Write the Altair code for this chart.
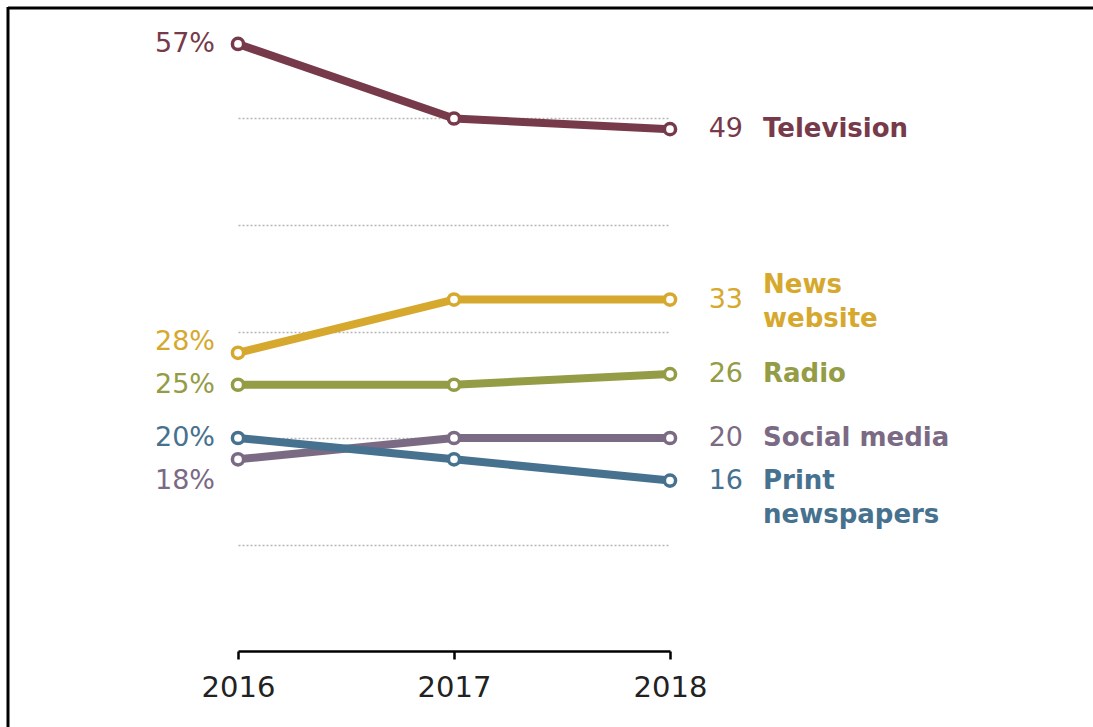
import altair as alt
import pandas as pd

# Share of U.S. adults who often get news on each platform
years = [2016, 2017, 2018]
series = ["Television", "News website", "Radio", "Social media", "Print newspapers"]
display_names = ["Television", "News\nwebsite", "Radio", "Social media", "Print\nnewspapers"]
television = [57, 50, 49]
news_website = [28, 33, 33]
radio = [25, 25, 26]
social_media = [18, 20, 20]
print_newspapers = [20, 18, 16]
colors = ["#773a4a", "#d6a92e", "#949c45", "#7b6a84", "#46718f"]
gridline_values = [10, 20, 30, 40, 50]

values_by_series = [television, news_website, radio, social_media, print_newspapers]
rows = []
for order, (name, label, vals) in enumerate(zip(series, display_names, values_by_series)):
    for year, v in zip(years, vals):
        rows.append({"series": name, "label": label, "year": year, "value": v, "order": order})
df = pd.DataFrame(rows)

FONT = "DejaVu Sans"

x_enc = alt.X(
    "year:O",
    scale=alt.Scale(type="point", padding=0),
    axis=alt.Axis(
        title=None, labelAngle=0, labelFont=FONT, labelFontSize=29, labelColor="#222222",
        labelPadding=14, domainColor="#000000", domainWidth=2.5, tickColor="#000000",
        tickWidth=2.5, tickSize=8, grid=False,
    ),
)
y_enc = alt.Y(
    "value:Q",
    scale=alt.Scale(domain=[0, 60], nice=False, zero=True),
    axis=alt.Axis(
        title=None, values=gridline_values, labels=False, ticks=False, domain=False,
        grid=True, gridColor="#b5b5b5", gridDash=[2, 2], gridWidth=1.5,
    ),
)
color_enc = alt.Color("series:N", scale=alt.Scale(domain=series, range=colors), legend=None)

base = alt.Chart(df).encode(x=x_enc, y=y_enc, color=color_enc)

# one line + circle layer per series so later series sit on top
series_layers = []
for name in series:
    sub = base.transform_filter(alt.datum.series == name)
    series_layers.append(sub.mark_line(strokeWidth=8, strokeJoin="round"))
for name in series:
    sub = base.transform_filter(alt.datum.series == name)
    series_layers.append(
        sub.mark_point(shape="circle", filled=False, fill="white", fillOpacity=1,
                       strokeWidth=3.5, size=125, opacity=1)
    )

# starting-year percentages; a few are nudged off their point to avoid collisions
left_shift = {"News website": -11, "Social media": 22}
left_layers = []
for name in series:
    left_layers.append(
        base.transform_filter((alt.datum.year == 2016) & (alt.datum.series == name))
        .transform_calculate(txt="datum.value + '%'")
        .mark_text(align="right", baseline="middle", dx=-23, dy=left_shift.get(name, 0),
                   font=FONT, fontSize=27)
        .encode(text="txt:N")
    )

right_values = (
    base.transform_filter(alt.datum.year == 2018)
    .mark_text(align="right", baseline="middle", dx=73, font=FONT, fontSize=27)
    .encode(text="value:Q")
)

# series names; two-line names are centred or hung from the value
name_shift = {"News website": -15}
right_names = []
for name in series:
    right_names.append(
        base.transform_filter((alt.datum.year == 2018) & (alt.datum.series == name))
        .mark_text(align="left", baseline="middle", dx=93, dy=name_shift.get(name, 0),
                   font=FONT, fontSize=26, fontWeight="bold", lineBreak="\n", lineHeight=34)
        .encode(text="label:N")
    )

# black frame along the top and left edges
frame_src = alt.Chart(pd.DataFrame({"k": [0]}))
frame_top = frame_src.mark_rule(color="#000000", strokeWidth=3).encode(
    x=alt.value(-230), x2=alt.value(855), y=alt.value(-4)
)
frame_left = frame_src.mark_rule(color="#000000", strokeWidth=3).encode(
    x=alt.value(-230), y=alt.value(-5), y2=alt.value(720)
)

chart = (
    alt.layer(*series_layers, *left_layers, right_values, *right_names, frame_top, frame_left)
    .properties(
        width=432,
        height=639,
        padding={"left": 238, "top": 12, "right": 423, "bottom": 76},
        autosize=alt.AutoSizeParams(type="none"),
        background="white",
    )
    .configure_view(stroke=None)
)

chart.save("out.html", embed_options={"renderer": "svg", "actions": False})
